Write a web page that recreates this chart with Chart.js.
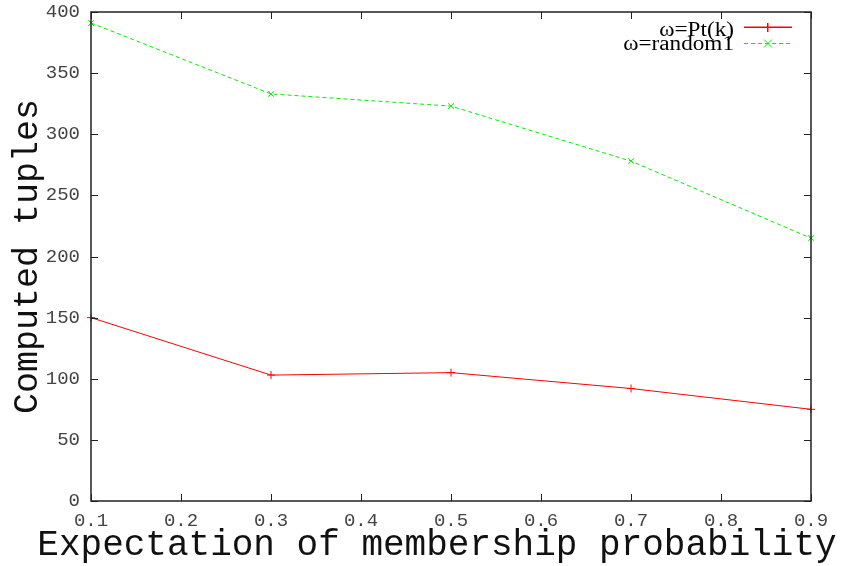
<!DOCTYPE html>
<html>
<head>
<meta charset="utf-8">
<script src="https://cdn.jsdelivr.net/npm/chart.js@4.4.0/dist/chart.umd.min.js"></script>
<style>
  html, body { margin: 0; padding: 0; background: #fff; }
  #wrap { width: 845px; height: 566px; }
</style>
</head>
<body>
<div id="wrap"><canvas id="chart" width="845" height="566"></canvas></div>
<script>
// datos
const probabilities = [0.1, 0.3, 0.5, 0.7, 0.9];
const tuplesPtk = [150, 103, 105, 92, 75];
const tuplesRandom1 = [391, 333, 323, 278, 215];
const seriesLabels = ['ω=Pt(k)', 'ω=random1'];
const seriesColors = ['#ff0000', '#00ee00'];
const xTitle = 'Expectation of membership probability';
const yTitle = 'Computed tuples';

const monoFont = '"Liberation Mono", "DejaVu Sans Mono", monospace';

// leyenda dibujada a mano, texto a la derecha y muestra de linea a la izquierda
function drawLegend(ctx) {
    seriesLabels.forEach((label, i) => {
        const baseY = 36 + i * 14;
        const ly = 27 + i * 16;
        ctx.save();
        ctx.font = '20px "Liberation Serif", "Times New Roman", serif';
        ctx.textAlign = 'right';
        ctx.textBaseline = 'alphabetic';
        ctx.translate(734, baseY);
        ctx.scale(1.16, 1);
        ctx.fillStyle = '#000';
        ctx.fillText(label, 0, 0);
        ctx.restore();

        ctx.save();
        ctx.strokeStyle = seriesColors[i];
        ctx.fillStyle = seriesColors[i];
        if (i === 0) {
            ctx.fillRect(744, ly - 0.5, 48, 1.5);
            ctx.fillRect(767, ly - 4, 1.5, 9);
        } else {
            for (let sx = 744; sx < 792; sx += 7) ctx.fillRect(sx, ly, 4, 1);
            ctx.lineWidth = 1;
            ctx.beginPath();
            ctx.moveTo(764, ly - 3.5); ctx.lineTo(772, ly + 4.5);
            ctx.moveTo(772, ly - 3.5); ctx.lineTo(764, ly + 4.5);
            ctx.stroke();
        }
        ctx.restore();
    });
}

// ticks hacia adentro en los cuatro lados (estilo gnuplot)
const frameTicks = {
    id: 'frameTicks',
    afterDraw(chart) {
        const { ctx, chartArea: a, scales: { x, y } } = chart;
        const len = 7;
        ctx.save();
        ctx.strokeStyle = '#222';
        ctx.lineWidth = 1;
        ctx.beginPath();
        x.ticks.forEach(t => {
            const px = Math.round(x.getPixelForValue(t.value)) + 0.5;
            ctx.moveTo(px, a.bottom); ctx.lineTo(px, a.bottom - len);
            ctx.moveTo(px, a.top); ctx.lineTo(px, a.top + len);
        });
        y.ticks.forEach(t => {
            const py = Math.round(y.getPixelForValue(t.value)) + 0.5;
            ctx.moveTo(a.left, py); ctx.lineTo(a.left + len, py);
            ctx.moveTo(a.right, py); ctx.lineTo(a.right - len, py);
        });
        ctx.stroke();
        ctx.lineWidth = 1.5;
        ctx.strokeRect(a.left, a.top, a.right - a.left, a.bottom - a.top);

        // titulo del eje x
        ctx.fillStyle = '#111';
        ctx.font = '36px ' + monoFont;
        ctx.textAlign = 'center';
        ctx.textBaseline = 'middle';
        ctx.fillText(xTitle, 437, 545);
        ctx.restore();

        drawLegend(ctx);
    }
};

new Chart(document.getElementById('chart'), {
    type: 'line',
    data: {
        labels: probabilities,
        datasets: [
            {
                label: seriesLabels[0],
                data: probabilities.map((p, i) => ({ x: p, y: tuplesPtk[i] })),
                borderColor: seriesColors[0],
                borderWidth: 1,
                pointStyle: 'cross',
                pointRadius: 4,
                pointBorderColor: seriesColors[0],
                pointBorderWidth: 1,
                tension: 0
            },
            {
                label: seriesLabels[1],
                data: probabilities.map((p, i) => ({ x: p, y: tuplesRandom1[i] })),
                borderColor: seriesColors[1],
                borderWidth: 1,
                borderDash: [4, 3],
                pointStyle: 'crossRot',
                pointRadius: 4,
                pointBorderColor: seriesColors[1],
                pointBorderWidth: 1,
                tension: 0
            }
        ]
    },
    options: {
        responsive: false,
        animation: false,
        clip: false,
        layout: { padding: { top: 12, right: 34, bottom: 0, left: 0 } },
        plugins: { legend: { display: false }, tooltip: { enabled: false } },
        scales: {
            x: {
                type: 'linear',
                min: 0.1,
                max: 0.9,
                grid: { display: false, drawTicks: false },
                border: { display: false },
                ticks: {
                    stepSize: 0.1,
                    padding: 9,
                    color: '#444',
                    font: { family: monoFont, size: 19 },
                    callback: v => v.toFixed(1)
                },
                afterFit: s => { s.height = 65; s.paddingLeft = 0; s.paddingRight = 0; }
            },
            y: {
                min: 0,
                max: 400,
                grid: { display: false, drawTicks: false },
                border: { display: false },
                ticks: {
                    stepSize: 50,
                    padding: 11,
                    color: '#444',
                    font: { family: monoFont, size: 19 }
                },
                title: {
                    display: true,
                    text: yTitle,
                    color: '#111',
                    font: { family: monoFont, size: 35, lineHeight: 1 },
                    padding: { top: 10, bottom: 0 }
                },
                afterFit: s => { s.width = 91; s.paddingTop = 0; s.paddingBottom = 0; }
            }
        }
    },
    plugins: [frameTicks]
});
</script>
</body>
</html>
